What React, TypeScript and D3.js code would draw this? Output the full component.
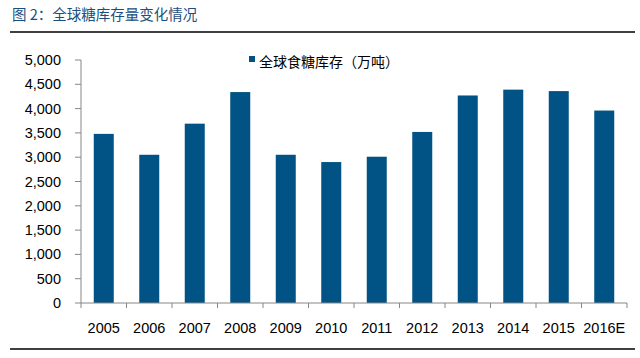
import React from "react";
import * as d3 from "d3";

const categories = ["2005", "2006", "2007", "2008", "2009", "2010", "2011", "2012", "2013", "2014", "2015", "2016E"];
const stocks = [3480, 3050, 3690, 4340, 3050, 2900, 3010, 3520, 4270, 4390, 4360, 3960];
const yTicks = [0, 500, 1000, 1500, 2000, 2500, 3000, 3500, 4000, 4500, 5000];
const title = "图 2：全球糖库存量变化情况";
const legendLabel = "全球食糖库存（万吨）";

const W = 640;
const H = 358;
const left = 81;
const right = 627;
const top = 60;
const bottom = 303;
const barColor = "#005384";
const axisColor = "#868686";
const latin = "'Liberation Sans', Arial, sans-serif";
const cjk = "'Noto Sans CJK SC', 'Liberation Sans', sans-serif";

export default function App() {
  const x = d3.scaleBand<string>().domain(categories).range([left, right]).paddingInner(0).paddingOuter(0);
  const y = d3.scaleLinear().domain([0, 5000]).range([bottom, top]);
  const fmt = d3.format(",");
  const barW = 20;
  const step = x.step();

  return (
    <svg width={W} height={H} style={{ position: "absolute", left: 0, top: 0, background: "#fff" }}>
      <text x={12} y={20} fontFamily={cjk} fontSize={14.5} fill="#1d4f7e">{title}</text>
      <line x1={10} x2={635} y1={32} y2={32} stroke="#000" strokeWidth={1.3} />
      <line x1={10} x2={635} y1={349} y2={349} stroke="#000" strokeWidth={1.3} />

      {categories.map((c, i) => (
        <rect key={c} x={(x(c) as number) + step / 2 - barW / 2} y={y(stocks[i])} width={barW} height={bottom - y(stocks[i])} fill={barColor} />
      ))}

      <line x1={left} x2={left} y1={top} y2={bottom} stroke={axisColor} strokeWidth={1} />
      {yTicks.map((t) => (
        <g key={t}>
          <line x1={left - 6} x2={left} y1={y(t)} y2={y(t)} stroke={axisColor} />
          <text x={61} y={y(t)} dy="0.35em" textAnchor="end" fontFamily={latin} fontSize={14.5} fill="#000">{fmt(t)}</text>
        </g>
      ))}

      <line x1={left} x2={right} y1={bottom} y2={bottom} stroke={axisColor} strokeWidth={1} />
      {[...categories.map((c) => x(c) as number), right].map((px, i) => (
        <line key={i} x1={px} x2={px} y1={bottom} y2={bottom + 5} stroke={axisColor} />
      ))}
      {categories.map((c) => (
        <text key={c} x={(x(c) as number) + step / 2} y={328} dy="0.35em" textAnchor="middle" fontFamily={latin} fontSize={14.5} fill="#000">{c}</text>
      ))}

      <rect x={249} y={56} width={6} height={6} fill={barColor} />
      <text x={259} y={62} dy="0.35em" fontFamily={cjk} fontSize={14} fill="#000">{legendLabel}</text>
    </svg>
  );
}
